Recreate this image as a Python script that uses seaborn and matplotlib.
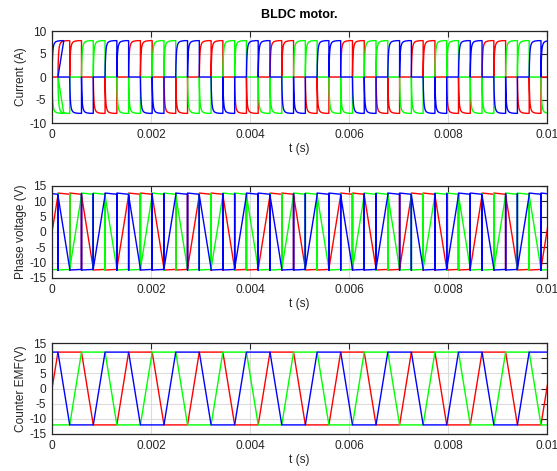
import numpy as np
import pandas as pd
import matplotlib
matplotlib.use("Agg")
import matplotlib.pyplot as plt
import seaborn as sns

# ---------------- data ----------------
# commutation instants (ms)
t_comm_ms = [0.120, 0.358, 0.596, 0.834, 1.072, 1.310, 1.548, 1.786, 2.024, 2.262,
             2.500, 2.738, 2.976, 3.214, 3.452, 3.690, 3.928, 4.166, 4.404, 4.642,
             4.880, 5.118, 5.356, 5.594, 5.832, 6.070, 6.308, 6.546, 6.784, 7.022,
             7.260, 7.498, 7.736, 7.974, 8.212, 8.450, 8.688, 8.926, 9.164, 9.402,
             9.640, 9.878, 10.116]

# conduction state of each phase in each sector (+1 high, -1 low, 0 floating)
red_state = [0,
             1, 1, 0, -1, -1, 0, 1, 1, 0, -1, -1, 0, 1, 1, 0, -1, -1, 0,
             1, 1, 0, -1, -1, 0, 1, 1, 0, -1, -1, 0, 1, 1, 0, -1, -1, 0,
             1, 1, 0, -1, -1, 0]
green_state = [-1,
               -1, 0, 1, 1, 0, -1, -1, 0, 1, 1, 0, -1, -1, 0, 1, 1, 0, -1,
               -1, 0, 1, 1, 0, -1, -1, 0, 1, 1, 0, -1, -1, 0, 1, 1, 0, -1,
               -1, 0, 1, 1, 0, -1]
blue_state = [1,
              0, -1, -1, 0, 1, 1, 0, -1, -1, 0, 1, 1, 0, -1, -1, 0, 1, 1,
              0, -1, -1, 0, 1, 1, 0, -1, -1, 0, 1, 1, 0, -1, -1, 0, 1, 1,
              0, -1, -1, 0, 1, 1]

emf_level = 12.0             # V, flat part of counter EMF
v_high = [12.7, 12.3]        # V, phase voltage at start / end of a high sector
v_low = [-12.4, -12.2]       # V, phase voltage at start / end of a low sector
v_spike = 12.5               # V, clamp level during commutation
i_peak = 7.9                 # A
# current pulse shape read from one pulse: fraction of sector -> fraction of peak
pulse_t = [0.0, 0.02, 0.05, 0.08, 0.12, 0.18, 0.25, 0.35, 0.50, 0.75, 1.0]
pulse_i = [0.0, 0.35, 0.60, 0.74, 0.84, 0.91, 0.95, 0.975, 0.99, 1.0, 1.0]

current_ticks = [-10, -5, 0, 5, 10]
volt_ticks = [-15, -10, -5, 0, 5, 10, 15]
time_ticks = [0, 0.002, 0.004, 0.006, 0.008, 0.01]
time_labels = ["0", "0.002", "0.004", "0.006", "0.008", "0.01"]

phases = {"a": red_state, "b": green_state, "c": blue_state}
palette = {"a": "#ff0000", "b": "#00ff00", "c": "#0000ff"}

edges = [0.0] + t_comm_ms
sec = t_comm_ms[1] - t_comm_ms[0]


def ramp_levels(states, j):
    prev = states[j - 1] if j > 0 else -states[j + 1]
    nxt = states[j + 1] if j + 1 < len(states) else -prev
    return prev, nxt


def emf_path(states):
    ts, vs = [], []
    for j, s in enumerate(states):
        end = edges[j + 1]
        start = edges[j] if j > 0 else end - sec
        if s != 0:
            v0 = v1 = emf_level * s
        else:
            p, n = ramp_levels(states, j)
            v0, v1 = emf_level * p, emf_level * n
        ts += [start, end]
        vs += [v0, v1]
    return ts, vs


def volt_path(states):
    ts, vs = [], []
    for j, s in enumerate(states):
        end = edges[j + 1]
        start = edges[j] if j > 0 else end - sec
        if s > 0:
            ts += [start, end]; vs += v_high
        elif s < 0:
            ts += [start, end]; vs += v_low
        else:
            p, n = ramp_levels(states, j)
            ts += [start, end]; vs += [emf_level * p, emf_level * n]
        if s != 0 and j + 1 < len(states):
            ts += [end]; vs += [-s * v_spike]
    return ts, vs


def current_path(states):
    ts, vs = [], []
    for j, s in enumerate(states):
        start, end = edges[j], edges[j + 1]
        if s != 0:
            for ft, fi in zip(pulse_t, pulse_i):
                ts.append(start + ft * sec)
                vs.append(s * i_peak * fi)
            ts.append(end); vs.append(0.0)
        else:
            ts += [start, end]; vs += [0.0, 0.0]
    return ts, vs


def frame(builder):
    rows = []
    for name, st in phases.items():
        ts, vs = builder(st)
        for k, (t, v) in enumerate(zip(ts, vs)):
            rows.append((t / 1000.0, v, name, k))
    return pd.DataFrame(rows, columns=["t", "v", "phase", "k"])


df_i = frame(current_path)
df_v = frame(volt_path)
df_e = frame(emf_path)

# ---------------- figure ----------------
sns.set_theme(style="white")
plt.rcParams["font.family"] = ["Liberation Sans", "DejaVu Sans"]
plt.rcParams["axes.unicode_minus"] = False

W, H = 557, 471
fig = plt.figure(figsize=(W / 100, H / 100), dpi=100)
dark = "#262626"

panels = [
    (df_i, 31, 123, (-10, 10), current_ticks, "Current (A)"),
    (df_v, 186, 278, (-15, 15), volt_ticks, "Phase voltage (V)"),
    (df_e, 343, 434, (-15, 15), volt_ticks, "Counter EMF(V)"),
]

for i, (df, top, bot, ylim, yt, ylab) in enumerate(panels):
    ax = fig.add_axes([52 / W, 1 - bot / H, 495 / W, (bot - top) / H])
    sns.lineplot(data=df, x="t", y="v", hue="phase", palette=palette,
                 hue_order=["a", "b", "c"], estimator=None, sort=False,
                 legend=False, linewidth=1.0, ax=ax, zorder=3)
    ax.set_xlim(0, 0.01)
    ax.set_ylim(*ylim)
    ax.set_xticks(time_ticks)
    ax.set_xticklabels(time_labels)
    ax.set_yticks(yt)
    ax.set_yticklabels([str(v) for v in yt])
    ax.grid(True, color="#dcdcdc", linewidth=0.8, zorder=0)
    ax.set_axisbelow(True)
    ax.tick_params(direction="in", length=4, width=0.8, colors=dark,
                   labelsize=8.6, top=True, right=True, pad=4,
                   labelcolor=dark)
    for sp in ax.spines.values():
        sp.set_color(dark)
        sp.set_linewidth(0.9)
        sp.set_zorder(5)
    ax.set_xlabel("t (s)", fontsize=8.6, color=dark, labelpad=2)
    ax.set_ylabel(ylab, fontsize=8.6, color=dark, labelpad=2)
    if i == 0:
        ax.set_title("BLDC motor.", fontsize=9, fontweight="bold", color="black", pad=9)

fig.savefig("out.png", dpi=100)
